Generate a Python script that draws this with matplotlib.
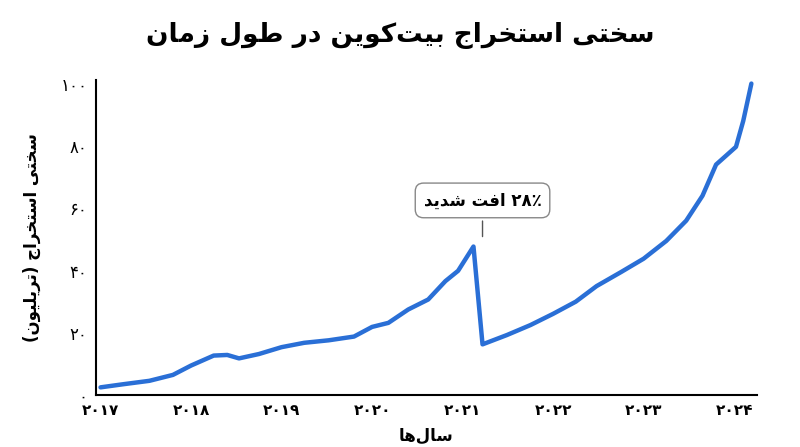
import matplotlib
matplotlib.use("Agg")
import matplotlib.pyplot as plt

years = [2017.0, 2017.25, 2017.54, 2017.8, 2018.0, 2018.25, 2018.4, 2018.53, 2018.75, 2019.0, 2019.25, 2019.52,
         2019.8, 2020.0, 2020.18, 2020.4, 2020.62, 2020.81, 2020.95, 2021.12, 2021.22, 2021.49, 2021.75,
         2022.0, 2022.25, 2022.48, 2022.75, 2023.0, 2023.25, 2023.47, 2023.65, 2023.8, 2024.02, 2024.1, 2024.19]
difficulty = [2.5, 3.5, 4.6, 6.5, 9.5, 12.7, 12.9, 11.8, 13.2, 15.4, 16.8, 17.6,
              18.8, 21.9, 23.2, 27.5, 30.7, 36.6, 39.9, 47.7, 16.3, 19.3, 22.5,
              26.1, 30.0, 35.0, 39.5, 43.8, 49.5, 56.0, 64.0, 74.0, 79.7, 88.0, 100.0]
xticks = [2017, 2018, 2019, 2020, 2021, 2022, 2023, 2024]
yticks = [0, 20, 40, 60, 80, 100]
title = "سختی استخراج بیت‌کوین در طول زمان"
ylabel = "سختی استخراج (تریلیون)"
xlabel = "سال‌ها"
note = "۲۸٪ افت شدید"

FORMS = {
    'ا': (0xFE8D, 0xFE8E, None, None), 'ب': (0xFE8F, 0xFE90, 0xFE91, 0xFE92),
    'ت': (0xFE95, 0xFE96, 0xFE97, 0xFE98), 'ج': (0xFE9D, 0xFE9E, 0xFE9F, 0xFEA0),
    'خ': (0xFEA5, 0xFEA6, 0xFEA7, 0xFEA8), 'د': (0xFEA9, 0xFEAA, None, None),
    'ر': (0xFEAD, 0xFEAE, None, None), 'ز': (0xFEAF, 0xFEB0, None, None),
    'س': (0xFEB1, 0xFEB2, 0xFEB3, 0xFEB4), 'ش': (0xFEB5, 0xFEB6, 0xFEB7, 0xFEB8),
    'ط': (0xFEC1, 0xFEC2, 0xFEC3, 0xFEC4), 'ف': (0xFED1, 0xFED2, 0xFED3, 0xFED4),
    'ل': (0xFEDD, 0xFEDE, 0xFEDF, 0xFEE0), 'م': (0xFEE1, 0xFEE2, 0xFEE3, 0xFEE4),
    'ن': (0xFEE5, 0xFEE6, 0xFEE7, 0xFEE8), 'ه': (0xFEE9, 0xFEEA, 0xFEEB, 0xFEEC),
    'و': (0xFEED, 0xFEEE, None, None), 'ی': (0xFBFC, 0xFBFD, 0xFBFE, 0xFBFF),
    'ک': (0xFB8E, 0xFB8F, 0xFB90, 0xFB91),
}

def shape(s):
    out = []
    for i, c in enumerate(s):
        if c not in FORMS:
            if c != '\u200c':
                out.append(c)
            continue
        f = FORMS[c]
        prev = s[i-1] if i > 0 else ''
        nxt = s[i+1] if i + 1 < len(s) else ''
        jp = prev in FORMS and FORMS[prev][2] is not None
        jn = f[2] is not None and nxt in FORMS
        if jp and jn:
            code = f[3]
        elif jp:
            code = f[1]
        elif jn:
            code = f[2]
        else:
            code = f[0]
        out.append(chr(code))
    vis = out[::-1]
    res, i = [], 0
    digits = set('۰۱۲۳۴۵۶۷۸۹0123456789٪%')
    while i < len(vis):
        if vis[i] in digits:
            j = i
            while j < len(vis) and vis[j] in digits:
                j += 1
            res.extend(vis[i:j][::-1])
            i = j
        else:
            res.append({'(': ')', ')': '('}.get(vis[i], vis[i]))
            i += 1
    return ''.join(res)

def fa(n):
    return str(n).translate(str.maketrans('0123456789', '۰۱۲۳۴۵۶۷۸۹'))

plt.rcParams['font.family'] = ['DejaVu Sans']
fig = plt.figure(figsize=(8, 4.47), dpi=100)
ax = fig.add_axes([0.12, 0.116, 0.826, 0.704])
ax.plot(years, difficulty, color='#2a6fd6', lw=3.2, solid_capstyle='round', solid_joinstyle='round')
ax.set_xlim(2016.95, 2024.25)
ax.set_ylim(0, 101)
ax.set_xticks(xticks)
ax.set_xticklabels([fa(y) for y in xticks], fontsize=11, fontweight='bold')
ax.set_yticks(yticks)
ax.set_yticklabels([fa(y) for y in yticks], fontsize=12)
for s in ['top', 'right']:
    ax.spines[s].set_visible(False)
ax.spines['left'].set_linewidth(1.5)
ax.spines['bottom'].set_linewidth(1.5)
ax.tick_params(length=0, pad=6)
ax.set_xlabel(shape(xlabel), fontsize=12, fontweight='bold', labelpad=6)
ax.set_ylabel(shape(ylabel), fontsize=12, fontweight='bold', labelpad=14)
fig.suptitle(shape(title), fontsize=19, fontweight='bold', y=0.95)
ax.annotate(shape(note), xy=(2021.22, 50), xytext=(2021.22, 62.5),
            ha='center', va='center', fontsize=12, fontweight='bold',
            bbox=dict(boxstyle='round,pad=0.5', fc='white', ec='#888888', lw=1),
            arrowprops=dict(arrowstyle='-', color='#555555', lw=1))
fig.savefig('out.png', dpi=100)
